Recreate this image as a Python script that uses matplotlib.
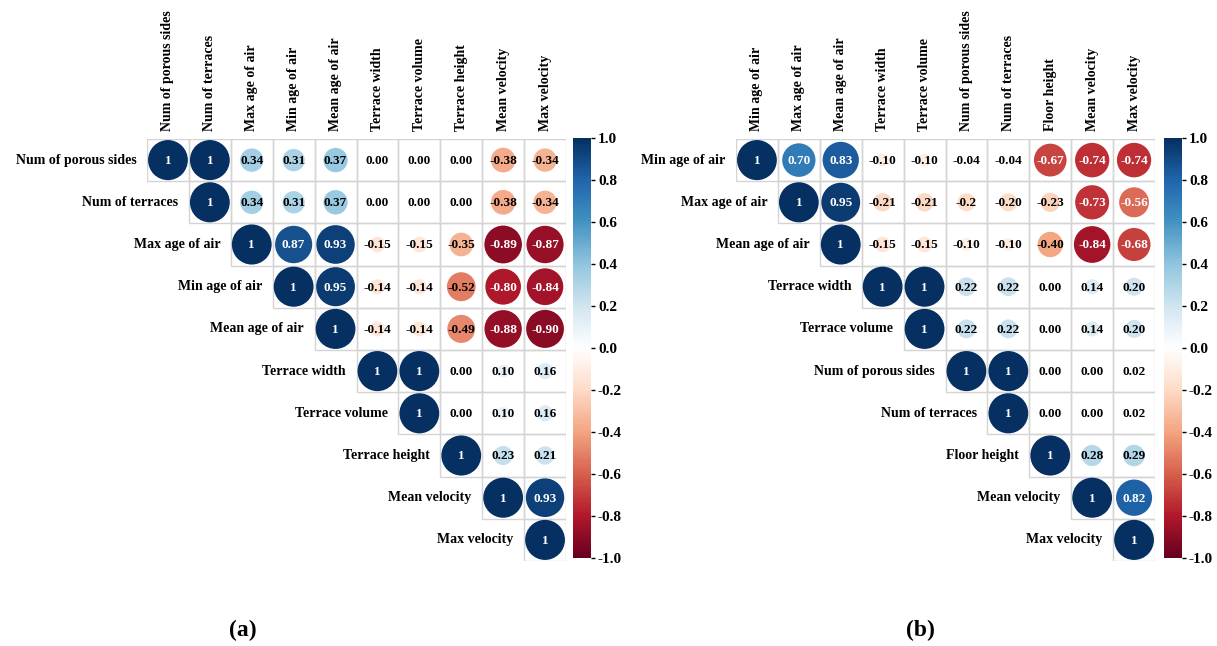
import numpy as np
import matplotlib
import matplotlib.pyplot as plt
from matplotlib.colors import LinearSegmentedColormap, Normalize
from matplotlib.cm import ScalarMappable
from matplotlib.patches import Circle

plt.rcParams['font.family'] = ['Liberation Serif', 'DejaVu Serif']
plt.rcParams['font.weight'] = 'bold'
plt.rcParams['axes.unicode_minus'] = False

# variable names, in matrix order
names_a = ['Num of porous sides', 'Num of terraces', 'Max age of air', 'Min age of air',
           'Mean age of air', 'Terrace width', 'Terrace volume', 'Terrace height',
           'Mean velocity', 'Max velocity']
names_b = ['Min age of air', 'Max age of air', 'Mean age of air', 'Terrace width',
           'Terrace volume', 'Num of porous sides', 'Num of terraces', 'Floor height',
           'Mean velocity', 'Max velocity']

# upper triangle of each correlation matrix, row i starts at the diagonal
coef_a = [
    ['1', '1', '0.34', '0.31', '0.37', '0.00', '0.00', '0.00', '-0.38', '-0.34'],
    ['1', '0.34', '0.31', '0.37', '0.00', '0.00', '0.00', '-0.38', '-0.34'],
    ['1', '0.87', '0.93', '-0.15', '-0.15', '-0.35', '-0.89', '-0.87'],
    ['1', '0.95', '-0.14', '-0.14', '-0.52', '-0.80', '-0.84'],
    ['1', '-0.14', '-0.14', '-0.49', '-0.88', '-0.90'],
    ['1', '1', '0.00', '0.10', '0.16'],
    ['1', '0.00', '0.10', '0.16'],
    ['1', '0.23', '0.21'],
    ['1', '0.93'],
    ['1'],
]
coef_b = [
    ['1', '0.70', '0.83', '-0.10', '-0.10', '-0.04', '-0.04', '-0.67', '-0.74', '-0.74'],
    ['1', '0.95', '-0.21', '-0.21', '-0.2', '-0.20', '-0.23', '-0.73', '-0.56'],
    ['1', '-0.15', '-0.15', '-0.10', '-0.10', '-0.40', '-0.84', '-0.68'],
    ['1', '1', '0.22', '0.22', '0.00', '0.14', '0.20'],
    ['1', '0.22', '0.22', '0.00', '0.14', '0.20'],
    ['1', '1', '0.00', '0.00', '0.02'],
    ['1', '0.00', '0.00', '0.02'],
    ['1', '0.28', '0.29'],
    ['1', '0.82'],
    ['1'],
]
cbar_ticks = [-1.0, -0.8, -0.6, -0.4, -0.2, 0.0, 0.2, 0.4, 0.6, 0.8, 1.0]

rdbu = ['#67001F', '#B2182B', '#D6604D', '#F4A582', '#FDDBC7', '#FFFFFF',
        '#D1E5F0', '#92C5DE', '#4393C3', '#2166AC', '#053061']
cmap = LinearSegmentedColormap.from_list('rdbu_w', rdbu, N=200)
norm = Normalize(-1, 1)

W, H = 1217, 646
fig = plt.figure(figsize=(W / 100, H / 100), dpi=100)


def px_axes(x0, y0, x1, y1):
    return fig.add_axes([x0 / W, 1 - y1 / H, (x1 - x0) / W, (y1 - y0) / H])


def corr_panel(ax, names, coef):
    n = len(names)
    ax.set_xlim(0, n)
    ax.set_ylim(n, 0)
    ax.axis('off')
    for i, row in enumerate(coef):
        for k, s in enumerate(row):
            j = i + k
            r = float(s)
            ax.add_patch(plt.Rectangle((j, i), 1, 1, fill=False, ec='#D4D4D4', lw=1))
            rad = 0.475 * np.sqrt(abs(r))
            if rad > 0:
                ax.add_patch(Circle((j + 0.5, i + 0.5), rad, fc=cmap(norm(r)), ec='none'))
            tc = 'white' if abs(r) >= 0.55 else 'black'
            ax.text(j + 0.5, i + 0.52, s, ha='center', va='center', fontsize=9.5,
                    color=tc, fontweight='bold')
        ax.text(i - 0.25, i + 0.5, names[i], ha='right', va='center', fontsize=10,
                fontweight='bold')
        ax.text(i + 0.5, -0.2, names[i], ha='center', va='bottom', rotation=90,
                fontsize=10, fontweight='bold')


def color_bar(cax):
    cb = fig.colorbar(ScalarMappable(norm=norm, cmap=cmap), cax=cax, ticks=cbar_ticks)
    cb.outline.set_visible(False)
    cb.ax.set_yticklabels([f'{t:.1f}' for t in cbar_ticks])
    cb.ax.tick_params(labelsize=11, length=3, width=1, pad=2)
    for lab in cb.ax.get_yticklabels():
        lab.set_fontweight('bold')


ax_a = px_axes(147, 139, 566, 561)
corr_panel(ax_a, names_a, coef_a)
color_bar(px_axes(573, 138, 591, 558))

ax_b = px_axes(736, 139, 1155, 561)
corr_panel(ax_b, names_b, coef_b)
color_bar(px_axes(1164, 138, 1182, 558))

fig.text(243 / W, 1 - 630 / H, '(a)', ha='center', va='center', fontsize=17, fontweight='bold')
fig.text(920 / W, 1 - 630 / H, '(b)', ha='center', va='center', fontsize=17, fontweight='bold')

fig.savefig('out.png', dpi=100, facecolor='white')
